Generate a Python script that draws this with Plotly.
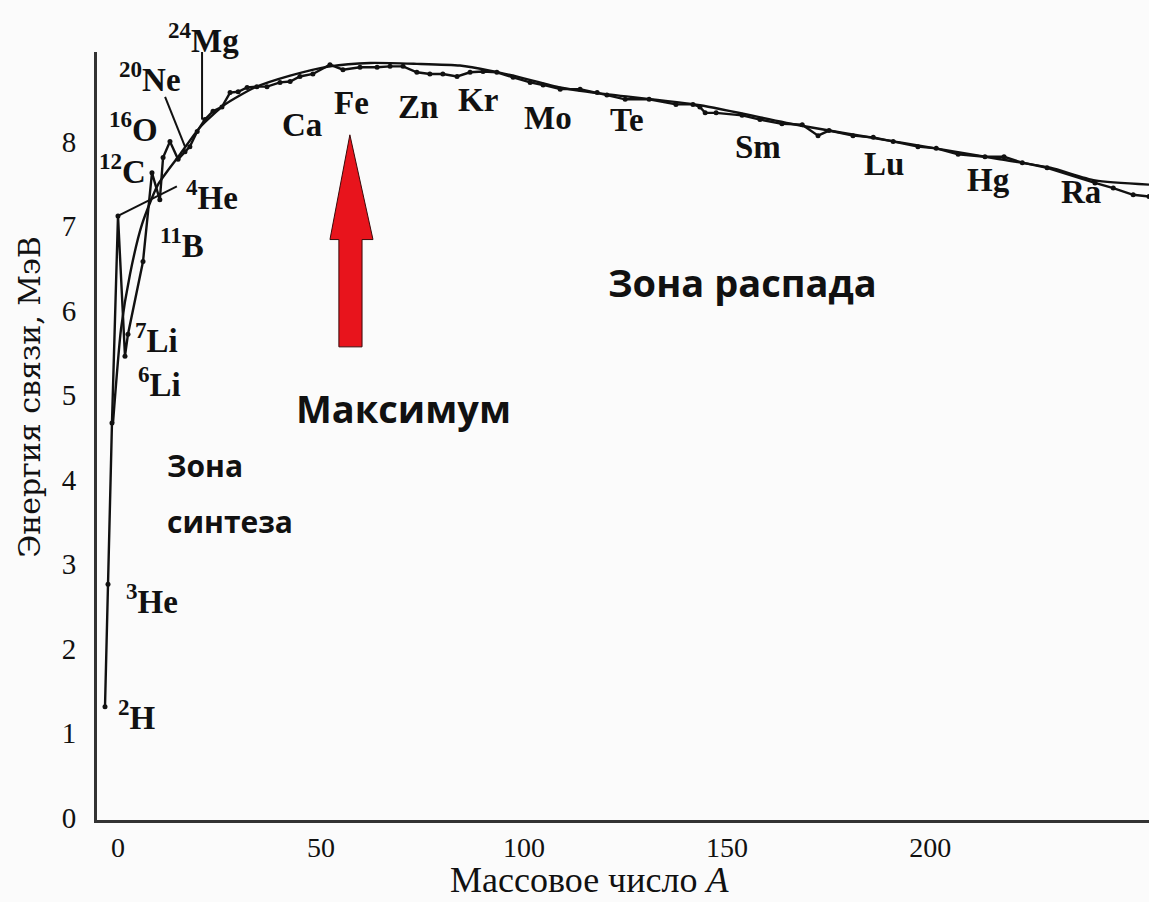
import plotly.graph_objects as go

# ---- data (mass number A, binding energy per nucleon, MeV) ----
A_data = [-3.2, -2.46, -1.48, 0.0, 1.72, 2.46, 6.16, 8.37, 10.3, 11.1, 12.8, 14.8, 16.5, 17.7,
          19.5, 21.4, 23.4, 25.6, 27.6, 29.6, 31.8, 34.2, 36.7, 39.9, 42.4, 44.8, 48.0, 52.2,
          55.4, 59.6, 63.8, 67.0, 70.2, 73.6, 76.8, 80.0, 83.5, 86.7, 89.9, 93.3, 97.3, 101.5,
          104.7, 108.9, 113.8, 118.0, 120.4, 124.9, 130.8, 137.4, 141.6, 143.3, 144.6, 147.3,
          153.7, 158.1, 163.5, 168.5, 172.4, 175.1, 181.0, 186.0, 190.9, 197.0, 201.5, 206.9,
          213.5, 218.2, 222.7, 228.8, 240.6, 245.1, 250.0, 253.9]
E_data = [1.31, 2.76, 4.67, 7.12, 5.46, 5.72, 6.58, 7.63, 7.31, 7.81, 8.00, 7.79, 7.88, 7.94,
          8.12, 8.26, 8.36, 8.41, 8.58, 8.59, 8.64, 8.65, 8.65, 8.70, 8.71, 8.77, 8.80, 8.91,
          8.85, 8.88, 8.88, 8.89, 8.89, 8.82, 8.80, 8.80, 8.77, 8.82, 8.83, 8.82, 8.76, 8.70,
          8.67, 8.62, 8.62, 8.58, 8.55, 8.50, 8.50, 8.44, 8.44, 8.41, 8.34, 8.34,
          8.31, 8.26, 8.21, 8.20, 8.07, 8.13, 8.07, 8.05, 8.00, 7.94, 7.92, 7.85,
          7.82, 7.82, 7.75, 7.69, 7.51, 7.45, 7.37, 7.35]

# smooth (fitted) curve
A_fit = [-1.23, 0.74, 2.96, 5.91, 9.85, 15.3, 20.2, 26.4, 33.7, 42.4, 52.2, 62.1, 73.6, 84.2,
         91.6, 99.0, 108.9, 118.7, 143.3, 168.0, 192.6, 217.2, 229.6, 240.6, 253.9]
E_fit = [4.67, 5.78, 6.43, 7.02, 7.49, 7.85, 8.17, 8.44, 8.64, 8.78, 8.89, 8.93, 8.92, 8.90,
         8.84, 8.76, 8.64, 8.57, 8.43, 8.19, 7.99, 7.79, 7.69, 7.54, 7.49]

# leader lines for labels
lead_4He_A = [0.0, 14.5]
lead_4He_E = [7.12, 7.47]
lead_20Ne_A = [11.6, 16.5]
lead_20Ne_E = [8.53, 7.94]
lead_24Mg_A = [20.7, 20.7]
lead_24Mg_E = [9.06, 8.26]

# nuclide labels (text, A, E)
iso_text = ["<sup>20</sup>Ne", "<sup>16</sup>O", "<sup>12</sup>C", "<sup>4</sup>He",
            "<sup>11</sup>B", "<sup>7</sup>Li", "<sup>6</sup>Li", "<sup>3</sup>He", "<sup>2</sup>H"]
iso_A = [7.9, 3.7, 1.0, 23.2, 15.8, 9.6, 10.3, 8.4, 4.7]
iso_E = [8.76, 8.17, 7.67, 7.37, 6.80, 5.68, 5.15, 2.58, 1.21]

elem_text = ["Ca", "Fe", "Zn", "Kr", "Mo", "Te", "Sm", "Lu", "Hg", "Ra"]
elem_A = [45.3, 57.6, 73.9, 88.7, 105.9, 125.4, 157.6, 188.7, 214.3, 237.2]
elem_E = [8.20, 8.46, 8.41, 8.49, 8.28, 8.25, 7.94, 7.74, 7.54, 7.40]

x_ticks = [0, 50, 100, 150, 200]
y_ticks = [0, 1, 2, 3, 4, 5, 6, 7, 8]

# arrow (pointing up to the maximum)
arrow_A = [57.1, 62.8, 60.1, 60.1, 54.4, 54.4, 52.2]
arrow_E = [8.08, 6.84, 6.84, 5.57, 5.57, 6.84, 6.84]

SERIF = "Liberation Serif, Times New Roman, serif"
SANS = "Open Sans, Noto Sans, sans-serif"
INK = "#111111"
BG = "#fbfbfb"

fig = go.Figure()

fig.add_trace(go.Scatter(x=A_fit, y=E_fit, mode="lines",
                         line=dict(color=INK, width=2.4, shape="spline", smoothing=0.6),
                         hoverinfo="skip", showlegend=False))
fig.add_trace(go.Scatter(x=A_data, y=E_data, mode="lines+markers",
                         line=dict(color=INK, width=2.4),
                         marker=dict(color=INK, size=5),
                         showlegend=False))
for xs, ys in [(lead_4He_A, lead_4He_E), (lead_20Ne_A, lead_20Ne_E), (lead_24Mg_A, lead_24Mg_E)]:
    fig.add_trace(go.Scatter(x=xs, y=ys, mode="lines", line=dict(color=INK, width=2),
                             hoverinfo="skip", showlegend=False, cliponaxis=False))

# arrow
path = "M " + " L ".join(f"{a},{e}" for a, e in zip(arrow_A, arrow_E)) + " Z"
fig.add_shape(type="path", path=path, xref="x", yref="y",
              fillcolor="#e8141c", line=dict(color="#3a0a0a", width=1))

LBL = dict(family=SERIF, size=33, color=INK)
ann = [dict(x=0.1008, y=1.018, xref="paper", yref="paper", text="<b><sup>24</sup>Mg</b>",
            xanchor="center", yanchor="middle", showarrow=False, font=LBL)]
for t, a, e in zip(iso_text, iso_A, iso_E):
    ann.append(dict(x=a, y=e, xref="x", yref="y", text=f"<b>{t}</b>", showarrow=False, font=LBL))
for t, a, e in zip(elem_text, elem_A, elem_E):
    ann.append(dict(x=a, y=e, xref="x", yref="y", text=f"<b>{t}</b>", showarrow=False, font=LBL))

ann += [
    dict(x=153.7, y=6.34, xref="x", yref="y", text="<b>Зона распада</b>", showarrow=False,
         font=dict(family=SANS, size=38, color=INK)),
    dict(x=70.2, y=4.85, xref="x", yref="y", text="<b>Максимум</b>", showarrow=False,
         font=dict(family=SANS, size=38, color=INK)),
    dict(x=11.6, y=4.17, xref="x", yref="y", text="<b>Зона</b>", showarrow=False, xanchor="left",
         font=dict(family=SANS, size=30, color=INK)),
    dict(x=11.6, y=3.50, xref="x", yref="y", text="<b>синтеза</b>", showarrow=False, xanchor="left",
         font=dict(family=SANS, size=30, color=INK)),
    dict(x=-0.0637, y=0.551, xref="paper", yref="paper", text="Энергия связи, МэВ", textangle=-90,
         xanchor="center", yanchor="middle", showarrow=False,
         font=dict(family="DejaVu Serif, serif", size=30, color=INK)),
    dict(x=0.4686, y=-0.078, xref="paper", yref="paper", text="Массовое число <i>A</i>",
         xanchor="center", yanchor="middle", showarrow=False,
         font=dict(family=SERIF, size=36, color=INK)),
]

fig.update_layout(
    width=1149, height=902,
    margin=dict(l=97, r=0, t=52, b=82),
    paper_bgcolor=BG, plot_bgcolor=BG,
    annotations=ann,
    showlegend=False,
)
fig.update_xaxes(range=[-5.17, 253.9], tickvals=x_ticks, ticks="", showgrid=False, zeroline=False,
                 showline=True, linecolor="#333333", linewidth=3,
                 tickfont=dict(family=SERIF, size=28, color=INK), ticklabelstandoff=0)
fig.update_yaxes(range=[-0.03, 9.06], tickvals=y_ticks, ticks="", showgrid=False, zeroline=False,
                 showline=True, linecolor="#333333", linewidth=3,
                 tickfont=dict(family=SERIF, size=29, color=INK), ticklabelstandoff=12)

fig.write_html("out.html", config={"displayModeBar": False},
               post_script="document.body.style.margin='0';document.body.style.background='" + BG + "';")
